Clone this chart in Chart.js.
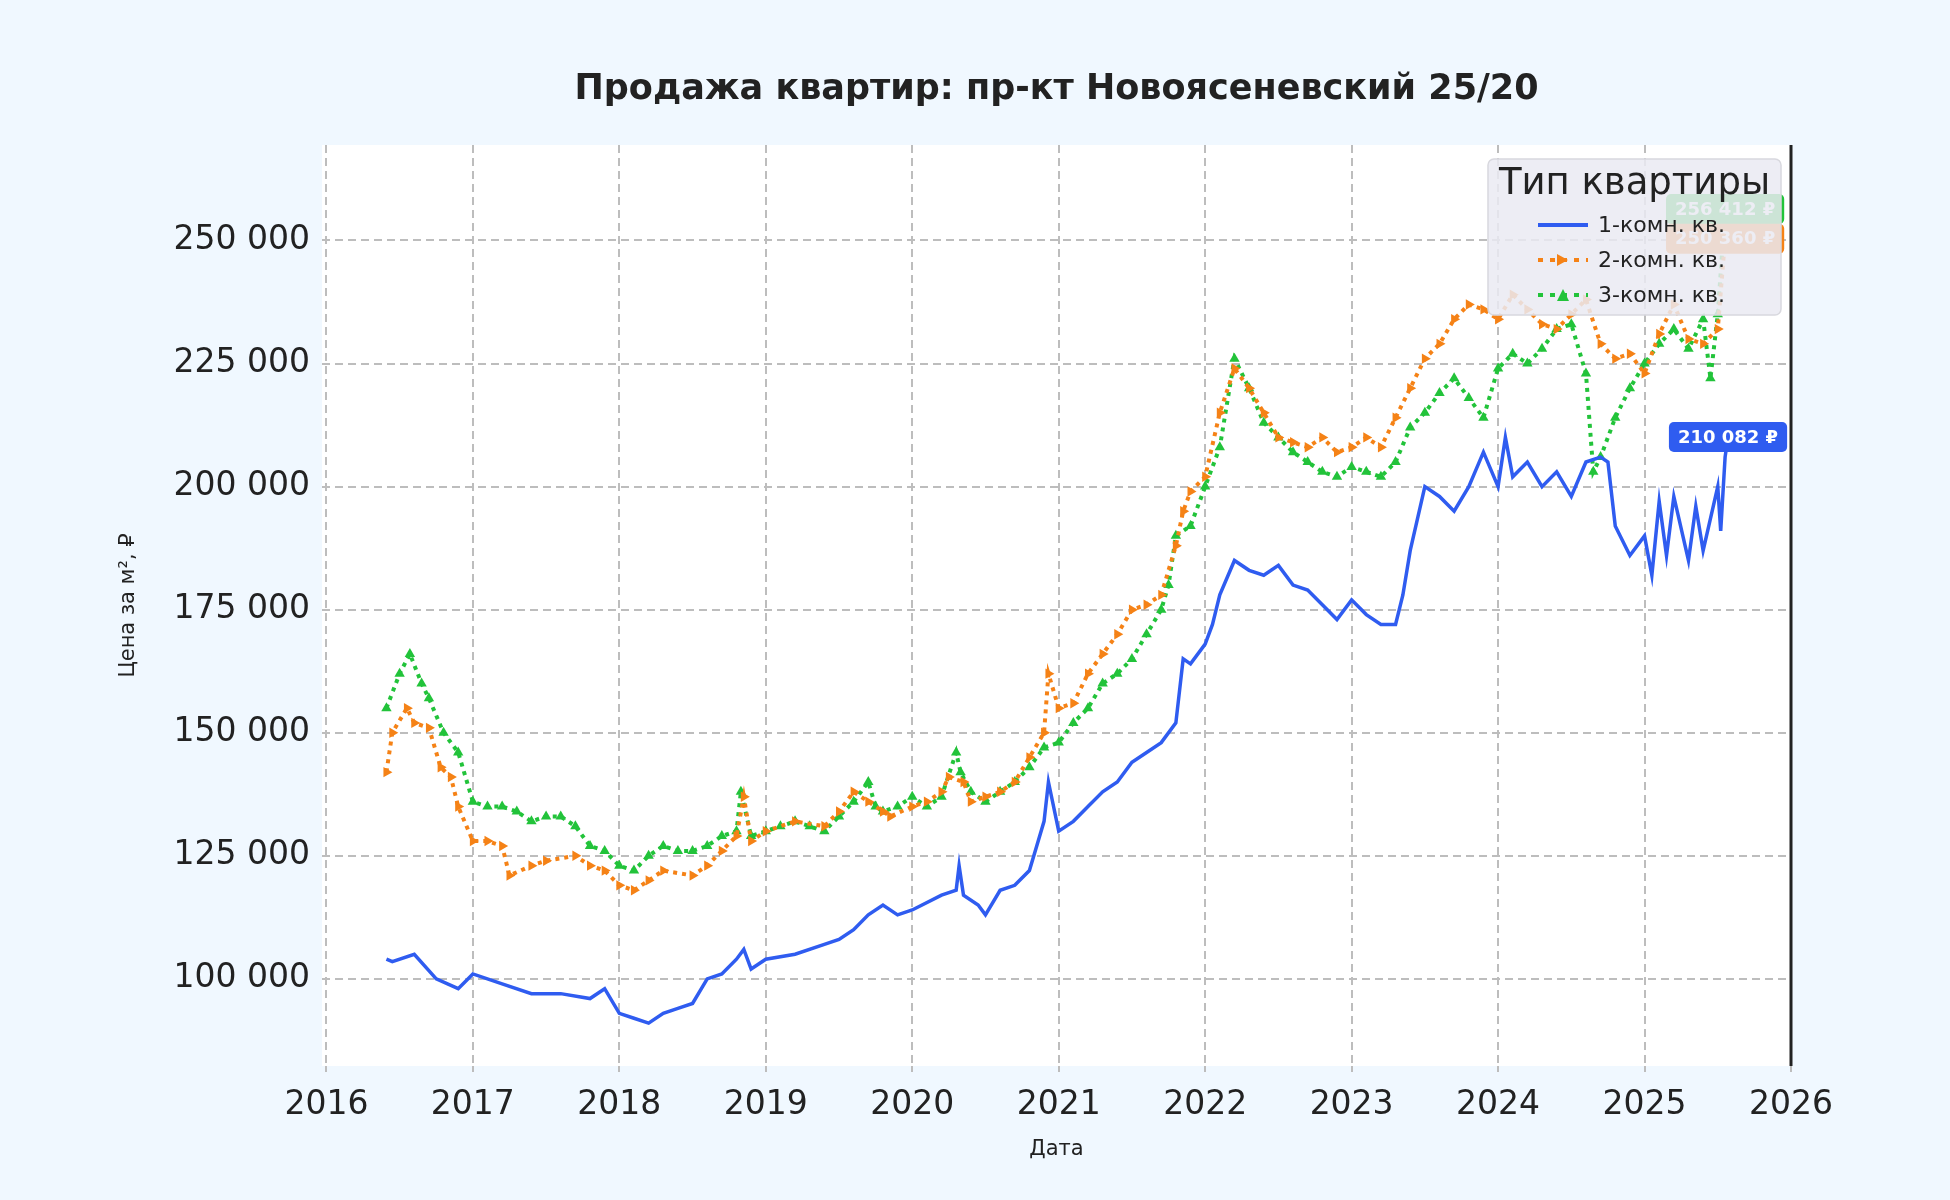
<!DOCTYPE html>
<html>
<head>
<meta charset="utf-8">
<script src="https://cdn.jsdelivr.net/npm/chart.js@4/dist/chart.umd.min.js"></script>
<style>
  body { margin: 0; background: #f0f8ff; }
  #wrap { width: 1950px; height: 1200px; }
</style>
</head>
<body>
<div id="wrap"><canvas id="chart" width="1950" height="1200"></canvas></div>
<script>
// Данные (дата как дробный год, цена за м²)
var xTicks = [2016, 2017, 2018, 2019, 2020, 2021, 2022, 2023, 2024, 2025, 2026];
var yTicks = [100000, 125000, 150000, 175000, 200000, 225000, 250000];

var datesOne = [2016.41,2016.45,2016.6,2016.75,2016.9,2017.0,2017.2,2017.4,2017.6,2017.8,2017.9,2018.0,2018.1,2018.2,2018.3,2018.4,2018.5,2018.6,2018.7,2018.8,2018.85,2018.9,2019.0,2019.2,2019.4,2019.5,2019.6,2019.7,2019.8,2019.9,2020.0,2020.2,2020.3,2020.32,2020.35,2020.45,2020.5,2020.6,2020.7,2020.8,2020.85,2020.9,2020.93,2021.0,2021.1,2021.2,2021.3,2021.4,2021.5,2021.6,2021.7,2021.8,2021.85,2021.9,2022.0,2022.05,2022.1,2022.2,2022.3,2022.4,2022.5,2022.6,2022.7,2022.8,2022.9,2023.0,2023.1,2023.2,2023.3,2023.35,2023.4,2023.5,2023.6,2023.7,2023.8,2023.9,2024.0,2024.05,2024.1,2024.2,2024.3,2024.4,2024.5,2024.6,2024.7,2024.75,2024.8,2024.9,2025.0,2025.05,2025.1,2025.15,2025.2,2025.3,2025.35,2025.4,2025.5,2025.52,2025.55,2025.57];
var pricesOne = [104000,103500,105000,100000,98000,101000,99000,97000,97000,96000,98000,93000,92000,91000,93000,94000,95000,100000,101000,104000,106000,102000,104000,105000,107000,108000,110000,113000,115000,113000,114000,117000,118000,123000,117000,115000,113000,118000,119000,122000,127000,132000,140000,130000,132000,135000,138000,140000,144000,146000,148000,152000,165000,164000,168000,172000,178000,185000,183000,182000,184000,180000,179000,176000,173000,177000,174000,172000,172000,178000,187000,200000,198000,195000,200000,207000,200000,210000,202000,205000,200000,203000,198000,205000,206000,205000,192000,186000,190000,182000,197000,186000,198000,185000,196000,187000,200000,191000,206000,210082];

var datesTwo = [2016.41,2016.45,2016.55,2016.6,2016.7,2016.78,2016.85,2016.9,2017.0,2017.1,2017.2,2017.25,2017.4,2017.5,2017.7,2017.8,2017.9,2018.0,2018.1,2018.2,2018.3,2018.5,2018.6,2018.7,2018.8,2018.85,2018.9,2019.0,2019.2,2019.4,2019.5,2019.6,2019.7,2019.8,2019.85,2020.0,2020.1,2020.2,2020.25,2020.35,2020.4,2020.5,2020.6,2020.7,2020.8,2020.9,2020.93,2021.0,2021.1,2021.2,2021.3,2021.4,2021.5,2021.6,2021.7,2021.8,2021.85,2021.9,2022.0,2022.1,2022.2,2022.3,2022.4,2022.5,2022.6,2022.7,2022.8,2022.9,2023.0,2023.1,2023.2,2023.3,2023.4,2023.5,2023.6,2023.7,2023.8,2023.9,2024.0,2024.1,2024.2,2024.3,2024.4,2024.5,2024.6,2024.7,2024.8,2024.9,2025.0,2025.1,2025.2,2025.3,2025.4,2025.5,2025.55];
var pricesTwo = [142000,150000,155000,152000,151000,143000,141000,135000,128000,128000,127000,121000,123000,124000,125000,123000,122000,119000,118000,120000,122000,121000,123000,126000,129000,137000,128000,130000,132000,131000,134000,138000,136000,134000,133000,135000,136000,138000,141000,140000,136000,137000,138000,140000,145000,150000,162000,155000,156000,162000,166000,170000,175000,176000,178000,188000,195000,199000,202000,215000,224000,220000,215000,210000,209000,208000,210000,207000,208000,210000,208000,214000,220000,226000,229000,234000,237000,236000,234000,239000,236000,233000,232000,235000,238000,229000,226000,227000,223000,231000,237000,230000,229000,232000,250360];

var datesThree = [2016.41,2016.5,2016.57,2016.65,2016.7,2016.8,2016.9,2017.0,2017.1,2017.2,2017.3,2017.4,2017.5,2017.6,2017.7,2017.8,2017.9,2018.0,2018.1,2018.2,2018.3,2018.4,2018.5,2018.6,2018.7,2018.8,2018.83,2018.9,2019.0,2019.1,2019.2,2019.3,2019.4,2019.5,2019.6,2019.7,2019.75,2019.8,2019.9,2020.0,2020.1,2020.2,2020.3,2020.33,2020.4,2020.5,2020.6,2020.7,2020.8,2020.9,2021.0,2021.1,2021.2,2021.3,2021.4,2021.5,2021.6,2021.7,2021.75,2021.8,2021.9,2022.0,2022.1,2022.2,2022.3,2022.4,2022.5,2022.6,2022.7,2022.8,2022.9,2023.0,2023.1,2023.2,2023.3,2023.4,2023.5,2023.6,2023.7,2023.8,2023.9,2024.0,2024.1,2024.2,2024.3,2024.4,2024.5,2024.6,2024.65,2024.7,2024.8,2024.9,2025.0,2025.1,2025.2,2025.3,2025.4,2025.45,2025.5,2025.55];
var pricesThree = [155000,162000,166000,160000,157000,150000,146000,136000,135000,135000,134000,132000,133000,133000,131000,127000,126000,123000,122000,125000,127000,126000,126000,127000,129000,130000,138000,129000,130000,131000,132000,131000,130000,133000,136000,140000,135000,134000,135000,137000,135000,137000,146000,142000,138000,136000,138000,140000,143000,147000,148000,152000,155000,160000,162000,165000,170000,175000,180000,190000,192000,200000,208000,226000,220000,213000,210000,207000,205000,203000,202000,204000,203000,202000,205000,212000,215000,219000,222000,218000,214000,224000,227000,225000,228000,232000,233000,223000,203000,206000,214000,220000,225000,229000,232000,228000,234000,222000,235000,256412];

var seriesNames = ['1-комн. кв.', '2-комн. кв.', '3-комн. кв.'];
var seriesColors = ['#2f5cf0', '#f58216', '#22c33a'];

function toPoints(xs, ys) {
    return xs.map((x, i) => ({ x: x, y: ys[i] }));
}

function formatNum(v) {
    return Math.round(v).toString().replace(/\B(?=(\d{3})+(?!\d))/g, ' ');
}

function roundRect(ctx, x, y, w, h, r) {
    ctx.beginPath();
    ctx.moveTo(x + r, y);
    ctx.arcTo(x + w, y, x + w, y + h, r);
    ctx.arcTo(x + w, y + h, x, y + h, r);
    ctx.arcTo(x, y + h, x, y, r);
    ctx.arcTo(x, y, x + w, y, r);
    ctx.closePath();
}

// Фон области графика, рамка справа, заголовок, подписи последних значений и легенда
var decorPlugin = {
    id: 'decor',
    beforeDraw(chart) {
        var ctx = chart.ctx, a = chart.chartArea;
        ctx.save();
        ctx.fillStyle = '#ffffff';
        ctx.fillRect(a.left, a.top, a.right - a.left, a.bottom - a.top);
        ctx.restore();
    },
    afterDraw(chart) {
        var ctx = chart.ctx, a = chart.chartArea;
        ctx.save();
        // правая граница
        ctx.strokeStyle = '#222';
        ctx.lineWidth = 3;
        ctx.beginPath();
        ctx.moveTo(a.right, a.top);
        ctx.lineTo(a.right, a.bottom);
        ctx.stroke();

        // заголовок
        ctx.fillStyle = '#222';
        ctx.font = 'bold 35px "DejaVu Sans"';
        ctx.textAlign = 'center';
        ctx.textBaseline = 'middle';
        ctx.fillText('Продажа квартир: пр-кт Новоясеневский 25/20', (a.left + a.right) / 2, 90);

        // подписи последних значений
        [2, 1, 0].forEach(function (di) {
            var meta = chart.getDatasetMeta(di);
            var last = meta.data[meta.data.length - 1];
            var val = chart.data.datasets[di].data[meta.data.length - 1].y;
            var text = formatNum(val) + ' ₽';
            ctx.font = 'bold 18px "DejaVu Sans"';
            var w = ctx.measureText(text).width + 18;
            var h = 30;
            var x = Math.min(last.x - w / 2, a.right - w);
            roundRect(ctx, x, last.y - h / 2, w, h, 5);
            ctx.fillStyle = seriesColors[di];
            ctx.fill();
            ctx.fillStyle = '#fff';
            ctx.textAlign = 'center';
            ctx.fillText(text, x + w / 2, last.y + 1);
        });

        // легенда
        var lx = 1488, ly = 159, lw = 293, lh = 156;
        roundRect(ctx, lx, ly, lw, lh, 6);
        ctx.fillStyle = 'rgba(234,234,242,0.85)';
        ctx.fill();
        ctx.strokeStyle = '#d8d8de';
        ctx.lineWidth = 1.5;
        ctx.stroke();
        ctx.fillStyle = '#222';
        ctx.font = '37px "DejaVu Sans"';
        ctx.textAlign = 'center';
        ctx.fillText('Тип квартиры', lx + lw / 2, ly + 25);
        ctx.font = '22px "DejaVu Sans"';
        ctx.textAlign = 'left';
        seriesNames.forEach(function (name, i) {
            var yy = ly + 66 + i * 35;
            ctx.strokeStyle = seriesColors[i];
            ctx.fillStyle = seriesColors[i];
            ctx.lineWidth = 4;
            if (i === 0) {
                ctx.setLineDash([]);
            } else {
                ctx.setLineDash([5, 7]);
            }
            ctx.beginPath();
            ctx.moveTo(lx + 50, yy);
            ctx.lineTo(lx + 100, yy);
            ctx.stroke();
            ctx.setLineDash([]);
            if (i > 0) {
                ctx.beginPath();
                if (i === 1) {
                    ctx.moveTo(lx + 69, yy - 6); ctx.lineTo(lx + 80, yy); ctx.lineTo(lx + 69, yy + 6);
                } else {
                    ctx.moveTo(lx + 69, yy + 6); ctx.lineTo(lx + 75, yy - 6); ctx.lineTo(lx + 81, yy + 6);
                }
                ctx.closePath();
                ctx.fill();
            }
            ctx.fillStyle = '#222';
            ctx.fillText(name, lx + 110, yy + 1);
        });
        ctx.restore();
    }
};

var tickFont = { family: 'DejaVu Sans', size: 33 };

new Chart(document.getElementById('chart').getContext('2d'), {
    type: 'line',
    data: {
        datasets: [
            {
                label: seriesNames[0],
                data: toPoints(datesOne, pricesOne),
                borderColor: seriesColors[0],
                borderWidth: 3.5,
                pointRadius: 0,
                tension: 0
            },
            {
                label: seriesNames[1],
                data: toPoints(datesTwo, pricesTwo),
                borderColor: seriesColors[1],
                backgroundColor: seriesColors[1],
                borderWidth: 4,
                borderDash: [4, 5],
                pointStyle: 'triangle',
                rotation: 90,
                pointRadius: 6,
                pointBorderWidth: 0,
                tension: 0
            },
            {
                label: seriesNames[2],
                data: toPoints(datesThree, pricesThree),
                borderColor: seriesColors[2],
                backgroundColor: seriesColors[2],
                borderWidth: 4,
                borderDash: [4, 5],
                pointStyle: 'triangle',
                pointRadius: 6,
                pointBorderWidth: 0,
                tension: 0
            }
        ]
    },
    options: {
        responsive: false,
        animation: false,
        layout: { padding: { left: 112, right: 159, top: 145, bottom: 34 } },
        plugins: {
            legend: { display: false },
            tooltip: { enabled: false }
        },
        scales: {
            x: {
                type: 'linear',
                min: 2015.97,
                max: 2026,
                afterBuildTicks: function (s) { s.ticks = xTicks.map(v => ({ value: v })); },
                afterFit: function (s) { s.height = 100; },
                ticks: { font: tickFont, color: '#222', padding: 14, callback: v => String(v) },
                grid: { color: '#bdbdbd', lineWidth: 2, drawTicks: true, tickLength: 6 },
                border: { display: false, dash: [8, 5] },
                title: { display: true, text: 'Дата', font: { family: 'DejaVu Sans', size: 21 }, color: '#222', padding: { top: 0 } }
            },
            y: {
                min: 82300,
                max: 269400,
                afterBuildTicks: function (s) { s.ticks = yTicks.map(v => ({ value: v })); },
                afterFit: function (s) { s.width = 210; },
                ticks: { font: tickFont, color: '#222', padding: 12, callback: v => formatNum(v) },
                grid: { color: '#bdbdbd', lineWidth: 2, drawTicks: false },
                border: { display: false, dash: [8, 5] },
                title: { display: true, text: 'Цена за м², ₽', font: { family: 'DejaVu Sans', size: 21 }, color: '#222' }
            }
        }
    },
    plugins: [decorPlugin]
});
</script>
</body>
</html>
